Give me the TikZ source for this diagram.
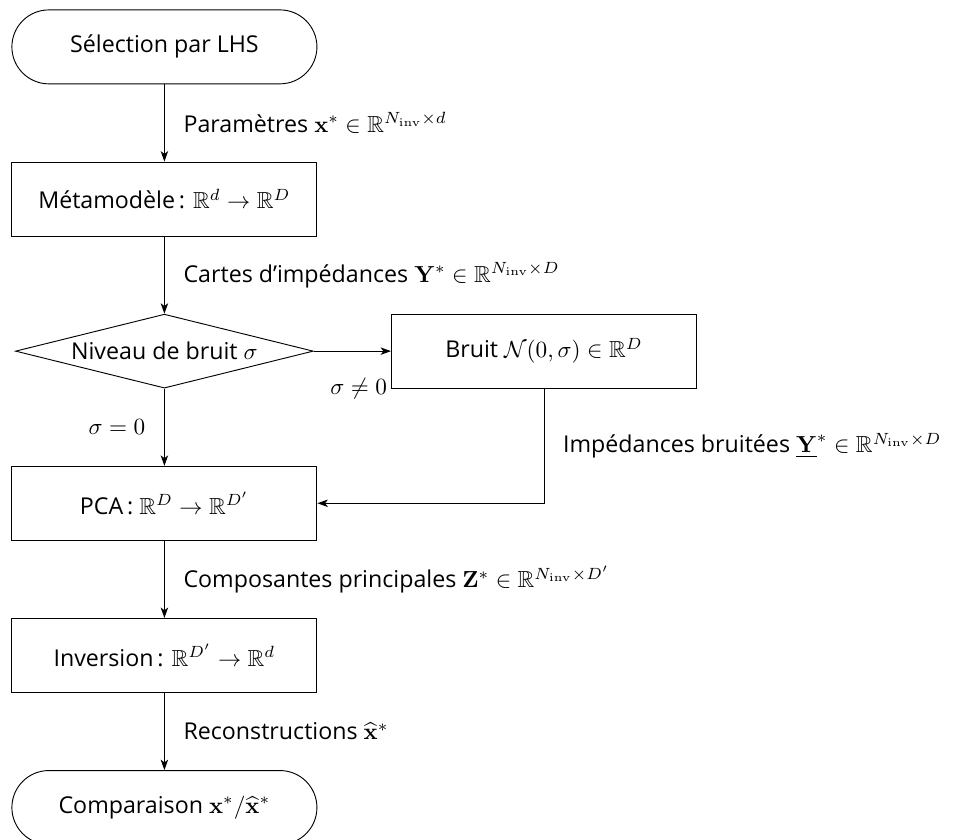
\documentclass[tikz,border=0pt]{standalone}
\usepackage{amsmath,amssymb}
\usepackage[no-math]{fontspec}
\setmainfont{Open Sans}
\usetikzlibrary{positioning,shapes.geometric,arrows.meta}

\begin{document}
\begin{tikzpicture}[
        node distance=1.17cm,
        box/.style={draw, rectangle, minimum width=4.62cm, minimum height=1.12cm},
        term/.style={draw, rectangle, rounded corners=0.56cm, minimum width=4.62cm, minimum height=1.12cm},
        test/.style={draw, diamond, aspect=4, inner sep=0pt, minimum width=4.51cm, minimum height=1.12cm},
        flow/.style={-{Stealth[length=4.5pt, width=3.2pt, inset=1.2pt]}},
        lab/.style={inner sep=0pt, outer sep=0pt}
    ]
    \useasboundingbox (0,0) rectangle (14.6,-12.71);

    % Main column
    \node[term] (lhs) at (2.49,-0.71) {Sélection par LHS};
    \node[box, below=of lhs] (meta) {Métamodèle\,: $\mathbb{R}^d \to \mathbb{R}^D$};
    \node[test, below=of meta] (niveau) {Niveau de bruit $\sigma$};
    \node[box, below=of niveau] (pca) {PCA\,: $\mathbb{R}^D \to \mathbb{R}^{D'}$};
    \node[box, below=of pca] (inv) {Inversion\,: $\mathbb{R}^{D'} \to \mathbb{R}^d$};
    \node[term, below=of inv] (comp) {Comparaison $\mathbf{x}^*/\widehat{\mathbf{x}}^*$};

    % Noise branch
    \node[box, right=of niveau] (bruit) {Bruit $\mathcal{N}(0,\sigma) \in \mathbb{R}^D$};

    \draw[flow] (lhs) -- node[lab, right=0.29cm] (lparam)
        {Paramètres $\mathbf{x}^* \in \mathbb{R}^{N_{\mathrm{inv}} \times d}$} (meta);
    \draw[flow] (meta) -- node[lab, right=0.29cm] (lcartes)
        {Cartes d’impédances $\mathbf{Y}^* \in \mathbb{R}^{N_{\mathrm{inv}} \times D}$} (niveau);
    \draw[flow] (niveau) -- node[lab, left=0.29cm] (lzero) {$\sigma = 0$} (pca);
    \draw[flow] (niveau) -- (bruit);
    \node[left, inner sep=1.5pt] (lnonzero) at (bruit.south west) {$\sigma \neq 0$};
    \draw[flow] (bruit.south) |- node[lab, right=0.29cm, pos=0.25] (lbruit)
        {Impédances bruitées $\underline{\mathbf{Y}}^* \in \mathbb{R}^{N_{\mathrm{inv}} \times D}$} (pca.east);
    \draw[flow] (pca) -- node[lab, right=0.29cm] (lcomp)
        {Composantes principales $\mathbf{Z}^* \in \mathbb{R}^{N_{\mathrm{inv}} \times D'}$} (inv);
    \draw[flow] (inv) -- node[lab, right=0.29cm] (lrec)
        {Reconstructions $\widehat{\mathbf{x}}^*$} (comp);
\end{tikzpicture}
\end{document}
